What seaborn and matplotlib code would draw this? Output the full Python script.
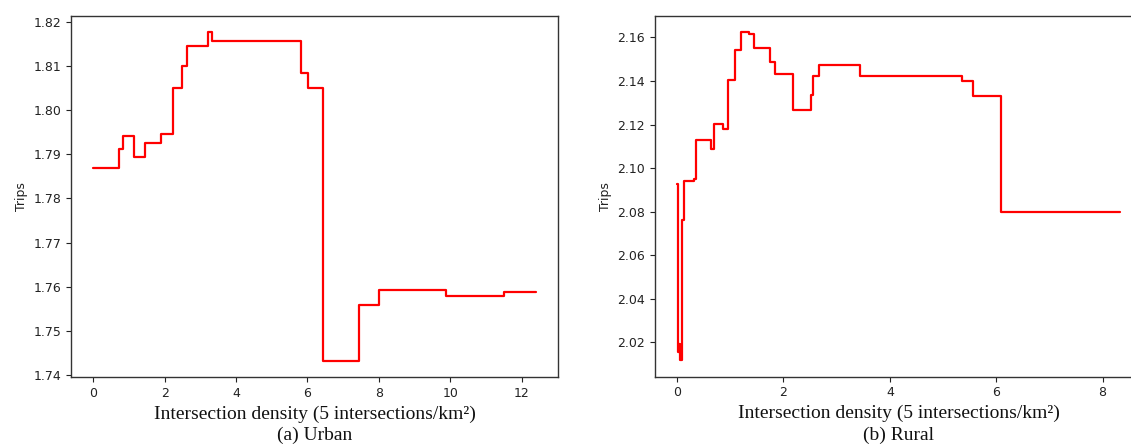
import numpy as np
import pandas as pd
import matplotlib
matplotlib.use("Agg")
import matplotlib.pyplot as plt
import seaborn as sns

# Urban panel: step change points (x) and level from that point on (trips)
urban_x = [0.0, 0.71, 0.835, 1.15, 1.46, 1.91, 2.23, 2.50, 2.64, 3.22, 3.32,
           5.83, 6.03, 6.45, 7.44, 8.0, 9.87, 11.5, 12.4]
urban_y = [1.7870, 1.7913, 1.7941, 1.7895, 1.7925, 1.7947, 1.8049, 1.8101, 1.8145,
           1.8176, 1.8156, 1.8085, 1.8051, 1.7433, 1.7559, 1.7593, 1.7579, 1.7588, 1.7588]

# Rural panel
rural_x = [0.0, 0.01, 0.03, 0.045, 0.06, 0.094, 0.125, 0.326, 0.364, 0.64, 0.70,
           0.866, 0.966, 1.09, 1.205, 1.343, 1.443, 1.738, 1.833, 2.177, 2.52, 2.55,
           2.667, 3.446, 5.35, 5.567, 6.095, 8.33]
rural_y = [2.0929, 2.0156, 2.0195, 2.0160, 2.0118, 2.0760, 2.0939, 2.0952, 2.1128,
           2.1086, 2.1202, 2.1181, 2.1405, 2.1544, 2.1623, 2.1615, 2.1553, 2.1485,
           2.1432, 2.1268, 2.1335, 2.1424, 2.1475, 2.1424, 2.1400, 2.1329, 2.0797, 2.0797]

urban_yticks = [1.74, 1.75, 1.76, 1.77, 1.78, 1.79, 1.80, 1.81, 1.82]
rural_yticks = [2.02, 2.04, 2.06, 2.08, 2.10, 2.12, 2.14, 2.16]
urban_xticks = [0, 2, 4, 6, 8, 10, 12]
rural_xticks = [0, 2, 4, 6, 8]

xlabel_text = "Intersection density (5 intersections/km²)"
captions = ["(a) Urban", "(b) Rural"]
ylabel_text = "Trips"

sns.set_style("ticks")
plt.rcParams["font.family"] = ["DejaVu Sans"]

fig = plt.figure(figsize=(11.31, 4.48), dpi=100)
ax1 = fig.add_axes([0.0628, 0.1585, 0.4306, 0.8058])
ax2 = fig.add_axes([0.5791, 0.1592, 0.4309, 0.8051])

serif = ["Liberation Serif", "DejaVu Serif"]

for ax, xs, ys, cap, xt, yt in [(ax1, urban_x, urban_y, captions[0], urban_xticks, urban_yticks),
                                (ax2, rural_x, rural_y, captions[1], rural_xticks, rural_yticks)]:
    df = pd.DataFrame({"x": xs, "y": ys})
    sns.lineplot(data=df, x="x", y="y", ax=ax, color="#ff0000", linewidth=1.6,
                 drawstyle="steps-post", sort=False, estimator=None)
    ax.set_xticks(xt)
    ax.set_yticks(yt)
    ax.set_yticklabels([f"{v:.2f}" for v in yt])
    ax.tick_params(axis="both", labelsize=9, colors="#222222", length=3.5, width=0.8)
    for s in ax.spines.values():
        s.set_color("#333333")
        s.set_linewidth(1.0)
    ax.set_ylabel(ylabel_text, fontsize=9, color="#222222")
    ax.set_xlabel(xlabel_text, fontsize=14, family=serif, color="#111111", labelpad=4)
    ax.text(0.5, -0.163, cap, transform=ax.transAxes, ha="center", va="center",
            fontsize=14, family=serif, color="#111111")

fig.savefig("out.png", dpi=100)
